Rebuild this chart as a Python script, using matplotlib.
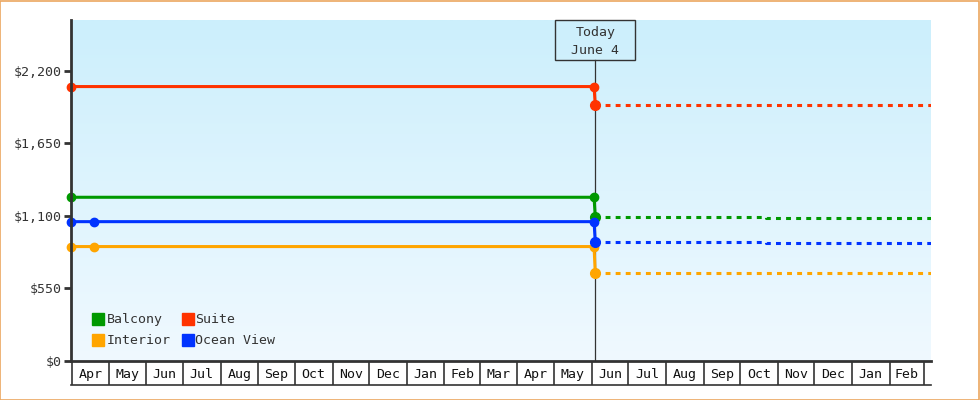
import numpy as np
import pandas as pd
import matplotlib
matplotlib.use("Agg")
import matplotlib.pyplot as plt
import matplotlib.dates as mdates
from matplotlib.colors import LinearSegmentedColormap
from matplotlib.lines import Line2D
from matplotlib.patches import Rectangle

# price history (solid) per cabin type
balcony_dates = ["2023-03-31", "2024-06-03"]
balcony_prices = [1240, 1240]
interior_dates = ["2023-03-31", "2023-04-19", "2024-06-03"]
interior_prices = [866, 866, 866]
suite_dates = ["2023-03-31", "2024-06-03"]
suite_prices = [2080, 2080]
ocean_dates = ["2023-03-31", "2023-04-19", "2024-06-03"]
ocean_prices = [1055, 1055, 1055]

# today's price and forecast (dotted)
today = "2024-06-04"
forecast_dates = ["2024-06-04", "2024-10-22", "2025-03-07"]
balcony_forecast = [1088, 1080, 1080]
interior_forecast = [663, 663, 663]
suite_forecast = [1937, 1937, 1937]
ocean_forecast = [898, 891, 891]

names = ["Balcony", "Interior", "Suite", "Ocean View"]
colors = ["#009900", "#FFA500", "#FF3300", "#0033FF"]

y_ticks = [0, 550, 1100, 1650, 2200]
x_start, x_end = "2023-03-31", "2025-03-07"
y_max = 2585

series = [
    (balcony_dates, balcony_prices, balcony_forecast),
    (interior_dates, interior_prices, interior_forecast),
    (suite_dates, suite_prices, suite_forecast),
    (ocean_dates, ocean_prices, ocean_forecast),
]

plt.rcParams["font.family"] = "DejaVu Sans Mono"
plt.rcParams["font.size"] = 9.5
dark = "#333333"

fig = plt.figure(figsize=(9.8, 4), dpi=100)
ax = fig.add_axes([71 / 980, 39.3 / 400, 860 / 980, 340.7 / 400])

x0 = mdates.date2num(pd.Timestamp(x_start))
x1 = mdates.date2num(pd.Timestamp(x_end))
t = mdates.date2num(pd.Timestamp(today))

# background gradient
cmap = LinearSegmentedColormap.from_list("bg", ["#F0F9FF", "#CCEFFC"])
grad = np.linspace(0, 1, 256).reshape(-1, 1)
ax.imshow(grad, extent=[x0, x1, 0, y_max], origin="lower", aspect="auto",
          cmap=cmap, zorder=0)

for (d, p, f), color in zip(series, colors):
    hd = mdates.date2num(pd.to_datetime(d))
    fd = mdates.date2num(pd.to_datetime(forecast_dates))
    ax.plot(np.append(hd, fd[0]), np.append(p, f[0]), color=color, lw=2.2,
            solid_capstyle="butt", zorder=3)
    ax.plot(hd, p, "o", color=color, ms=6, zorder=4, clip_on=False)
    ax.plot(fd[0], f[0], "o", color=color, ms=7, zorder=4)
    ax.plot(fd, f, color=color, lw=2.2, ls=(0, (1.6, 1.7)),
            dash_capstyle="butt", drawstyle="steps-post", zorder=3)

# today marker
box_w = 65.8
ax.axvline(t, ymax=0.882, color=dark, lw=0.9, zorder=2)
ax.add_patch(Rectangle((t - box_w / 2, 0.882), box_w, 0.118,
                       transform=ax.get_xaxis_transform(), fc="none",
                       ec=dark, lw=1, zorder=5, clip_on=False))
ax.text(t, 0.938, "Today\nJune 4", transform=ax.get_xaxis_transform(),
        ha="center", va="center", color=dark, linespacing=1.5, zorder=6)

ax.set_xlim(x0, x1)
ax.set_ylim(0, y_max)
ax.set_yticks(y_ticks)
ax.set_yticklabels([f"${v:,}" for v in y_ticks])
ax.set_xticks([])
ax.tick_params(axis="y", length=5, width=2, color=dark, labelcolor=dark, pad=2)
for s in ["top", "right"]:
    ax.spines[s].set_visible(False)
for s in ["left", "bottom"]:
    ax.spines[s].set_linewidth(2)
    ax.spines[s].set_color(dark)
    ax.spines[s].set_zorder(5)

handles = [Line2D([], [], marker="s", ls="none", color=c, ms=8) for c in colors]
ax.legend(handles, names, ncol=2, loc="lower left", bbox_to_anchor=(0.012, 0.005),
          frameon=False, handlelength=0.8, handletextpad=0.2, columnspacing=0.9,
          labelspacing=0.6, labelcolor=dark)

# month cells under the axis
axm = fig.add_axes([71 / 980, 15 / 400, 860 / 980, 24.3 / 400])
months = pd.date_range("2023-04-01", "2025-03-01", freq="MS")
mnum = mdates.date2num(months)
axm.set_xlim(x0, x1)
axm.set_ylim(0, 1)
axm.vlines(mnum, 0, 1, color=dark, lw=1.2)
for a, b, m in zip(mnum[:-1], mnum[1:], months[:-1]):
    axm.text((a + b) / 2, 0.45, m.strftime("%b"), ha="center", va="center",
             color="#111111")
axm.set_xticks([])
axm.set_yticks([])
axm.patch.set_visible(False)
for s in ["top", "left", "right"]:
    axm.spines[s].set_visible(False)
axm.spines["bottom"].set_color(dark)
axm.spines["bottom"].set_linewidth(1.2)

fig.patches.append(Rectangle((0.0005, 0.001), 0.998, 0.997, transform=fig.transFigure,
                             fill=False, ec="#EBA760", lw=1.2))

fig.savefig("out.png", dpi=100)
